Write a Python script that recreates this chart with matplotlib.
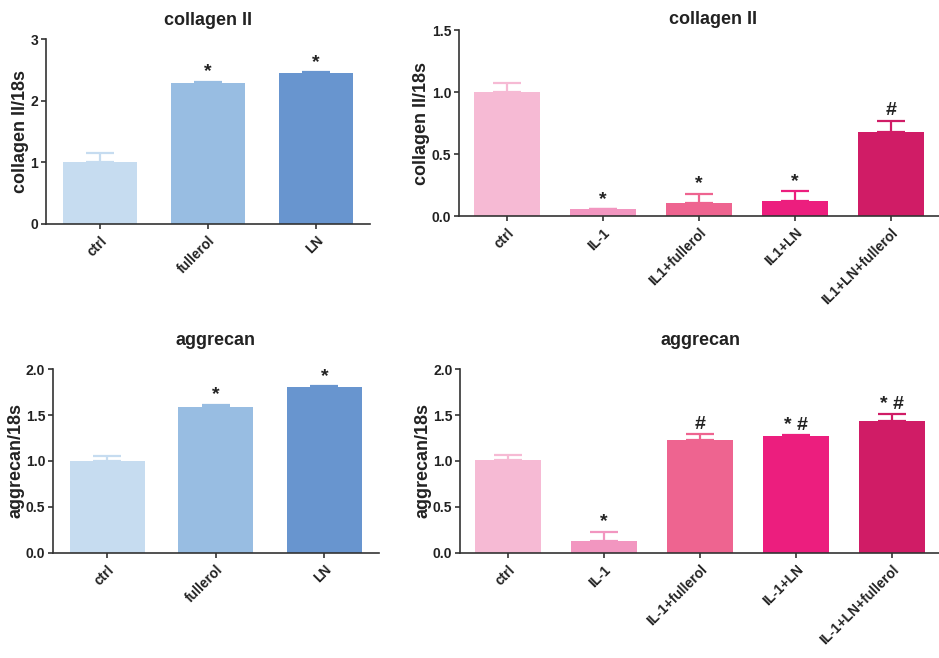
import numpy as np
from matplotlib import pyplot as plt

plt.rcParams['font.family'] = ['Liberation Sans', 'DejaVu Sans']
plt.rcParams['font.weight'] = 'bold'

# Treatment groups
groups_a = ['ctrl', 'fullerol', 'LN']
groups_b1 = ['ctrl', 'IL-1', 'IL1+fullerol', 'IL1+LN', 'IL1+LN+fullerol']
groups_b2 = ['ctrl', 'IL-1', 'IL-1+fullerol', 'IL-1+LN', 'IL-1+LN+fullerol']

# collagen II / 18s, normal cells
col_a = [1.0, 2.28, 2.45]
col_a_err = [0.15, 0.03, 0.01]
col_a_sig = ['', '*', '*']

# collagen II / 18s, IL-1 treated
col_b = [1.0, 0.055, 0.105, 0.12, 0.68]
col_b_err = [0.075, 0.0, 0.075, 0.08, 0.09]
col_b_sig = ['', '*', '*', '*', '#']

# aggrecan / 18s, normal cells
agg_a = [1.0, 1.59, 1.80]
agg_a_err = [0.05, 0.02, 0.01]
agg_a_sig = ['', '*', '*']

# aggrecan / 18s, IL-1 treated
agg_b = [1.01, 0.13, 1.23, 1.27, 1.43]
agg_b_err = [0.05, 0.10, 0.06, 0.01, 0.08]
agg_b_sig = ['', '*', '#', '* #', '* #']

blues = ['#c6dcf0', '#98bde2', '#6895cf']
pinks = ['#f6bad4', '#f296c0', '#ee6490', '#ec1e7e', '#d01c66']

fig = plt.figure(figsize=(9.39, 6.58), dpi=100)


def bar_panel(rect, labels, vals, errs, sig, colors, ylim, yticks, ytlabels,
              ylabel, title, title_x=0.5, title_pad=10):
    ax = fig.add_axes(rect)
    x = np.arange(len(vals))
    ax.bar(x, vals, width=0.69, color=colors, zorder=2)
    # upper error bars only, same colour as the bar
    for xi, v, e, c in zip(x, vals, errs, colors):
        ax.errorbar(xi, v, yerr=[[0], [e]], fmt='none', ecolor=c,
                    elinewidth=1.6, capsize=10, capthick=1.6, zorder=3)
    for xi, v, e, s in zip(x, vals, errs, sig):
        if s:
            ax.annotate(s, (xi, v + e), xytext=(0, 1), textcoords='offset points',
                        ha='center', va='bottom', fontsize=14, fontweight='bold',
                        color='#222222')
    ax.set_xlim(-0.5, len(vals) - 0.5)
    ax.set_ylim(*ylim)
    ax.set_yticks(yticks)
    ax.set_yticklabels(ytlabels)
    ax.set_xticks(x)
    ax.set_xticklabels(labels, rotation=45, ha='right', rotation_mode='anchor')
    for side in ['top', 'right']:
        ax.spines[side].set_visible(False)
    for side in ['left', 'bottom']:
        ax.spines[side].set_color('#333333')
        ax.spines[side].set_linewidth(1.2)
    ax.tick_params(axis='both', direction='out', length=3.5, width=1.2,
                   color='#333333', labelsize=10, labelcolor='#222222')
    ax.tick_params(axis='y', pad=2)
    ax.set_ylabel(ylabel, fontsize=13, fontweight='bold', color='#222222', labelpad=1)
    ax.set_title(title, fontsize=13, fontweight='bold', color='#222222',
                 pad=title_pad, x=title_x)
    return ax


bar_panel([0.049, 0.6596, 0.345, 0.281], groups_a, col_a, col_a_err, col_a_sig, blues,
          (0, 3), [0, 1, 2, 3], ['0', '1', '2', '3'], 'collagen II/18s', 'collagen II',
          title_pad=10)
bar_panel([0.4888, 0.6717, 0.511, 0.2827], groups_b1, col_b, col_b_err, col_b_sig, pinks,
          (0, 1.5), [0, 0.5, 1.0, 1.5], ['0.0', '0.5', '1.0', '1.5'],
          'collagen II/18s', 'collagen II', title_x=0.53, title_pad=4)
bar_panel([0.0564, 0.1596, 0.347, 0.2796], groups_a, agg_a, agg_a_err, agg_a_sig, blues,
          (0, 2.0), [0, 0.5, 1.0, 1.5, 2.0], ['0.0', '0.5', '1.0', '1.5', '2.0'],
          'aggrecan/18s', 'aggrecan', title_pad=17)
bar_panel([0.49, 0.1596, 0.511, 0.2796], groups_b2, agg_b, agg_b_err, agg_b_sig, pinks,
          (0, 2.0), [0, 0.5, 1.0, 1.5, 2.0], ['0.0', '0.5', '1.0', '1.5', '2.0'],
          'aggrecan/18s', 'aggrecan', title_pad=17)

plt.savefig('out.png', dpi=100)
